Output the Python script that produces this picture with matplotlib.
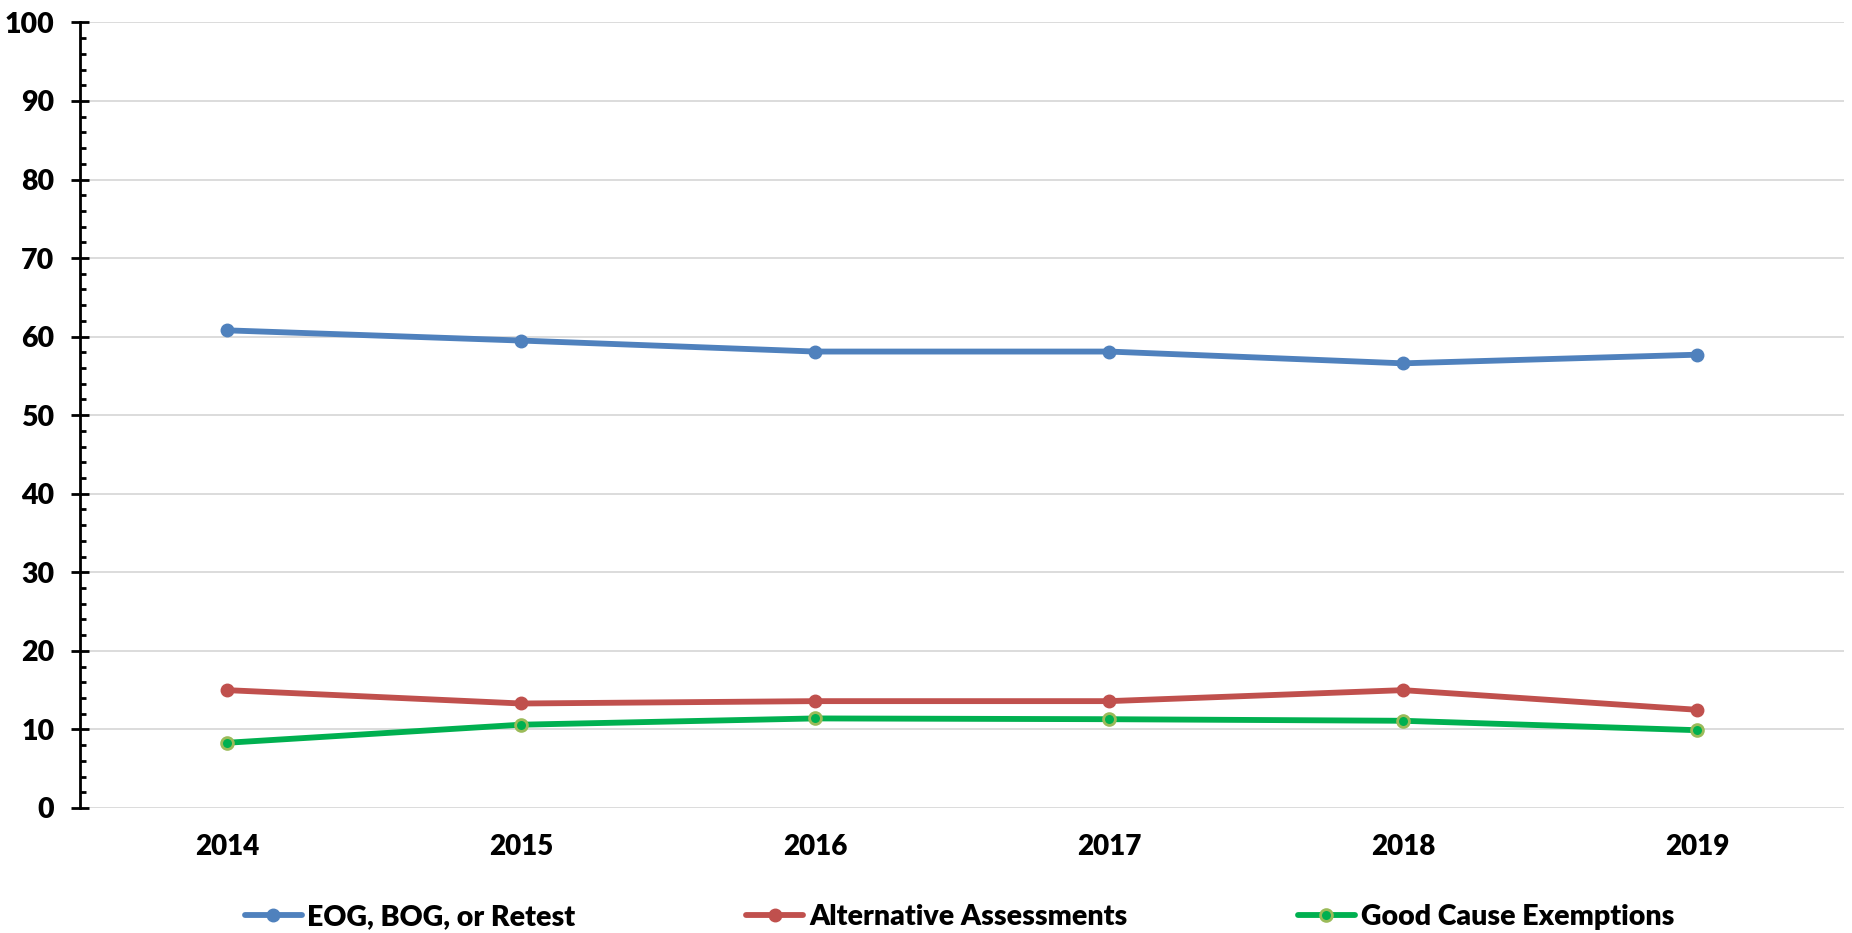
import matplotlib
matplotlib.use('Agg')
import matplotlib.pyplot as plt
from matplotlib.ticker import MultipleLocator

years = ['2014', '2015', '2016', '2017', '2018', '2019']
eog_bog_retest = [60.8, 59.5, 58.1, 58.1, 56.6, 57.7]
alternative = [15.0, 13.3, 13.6, 13.6, 15.0, 12.5]
good_cause = [8.3, 10.6, 11.4, 11.3, 11.1, 9.9]
series_names = ['EOG, BOG, or Retest', 'Alternative Assessments', 'Good Cause Exemptions']

plt.rcParams['font.family'] = ['Lato', 'DejaVu Sans']
plt.rcParams['font.weight'] = 'bold'

fig = plt.figure(figsize=(18.52, 9.33), dpi=100)
ax = fig.add_axes([0.0432, 0.134, 0.9525, 0.842])

x = list(range(len(years)))
ax.plot(x, eog_bog_retest, color='#4F81BD', lw=4.2, marker='o', ms=9,
        solid_capstyle='round', label=series_names[0], zorder=3)
ax.plot(x, alternative, color='#C0504D', lw=4.2, marker='o', ms=9,
        solid_capstyle='round', label=series_names[1], zorder=3)
ax.plot(x, good_cause, color='#00B050', lw=4.2, marker='o', ms=8.5,
        mfc='#00B050', mec='#9BBB59', mew=2,
        solid_capstyle='round', label=series_names[2], zorder=3)

ax.set_xlim(-0.5, len(years) - 0.5)
ax.set_ylim(0, 100)
ax.set_xticks(x)
ax.set_xticklabels(years)
ax.yaxis.set_major_locator(MultipleLocator(10))
ax.yaxis.set_minor_locator(MultipleLocator(2))

ax.grid(axis='y', which='major', color='#D9D9D9', lw=1.3, zorder=0)
for side in ['top', 'right', 'bottom']:
    ax.spines[side].set_visible(False)
ax.spines['left'].set_linewidth(2)
ax.spines['left'].set_color('black')

ax.tick_params(axis='y', which='major', direction='inout', length=13, width=2,
               labelsize=20.5, pad=12)
ax.tick_params(axis='y', which='minor', direction='in', length=4.5, width=2)
ax.tick_params(axis='x', which='both', length=0, labelsize=20, pad=19)
for lbl in ax.get_xticklabels() + ax.get_yticklabels():
    lbl.set_fontweight('heavy')

fig.legend(loc='center', bbox_to_anchor=(0.518, 0.017), ncol=3, frameon=False,
           prop={'size': 20.5, 'weight': 'heavy'}, handlelength=2.0,
           columnspacing=6.0, handletextpad=0.2)

fig.savefig('out.png', dpi=100, facecolor='white')
